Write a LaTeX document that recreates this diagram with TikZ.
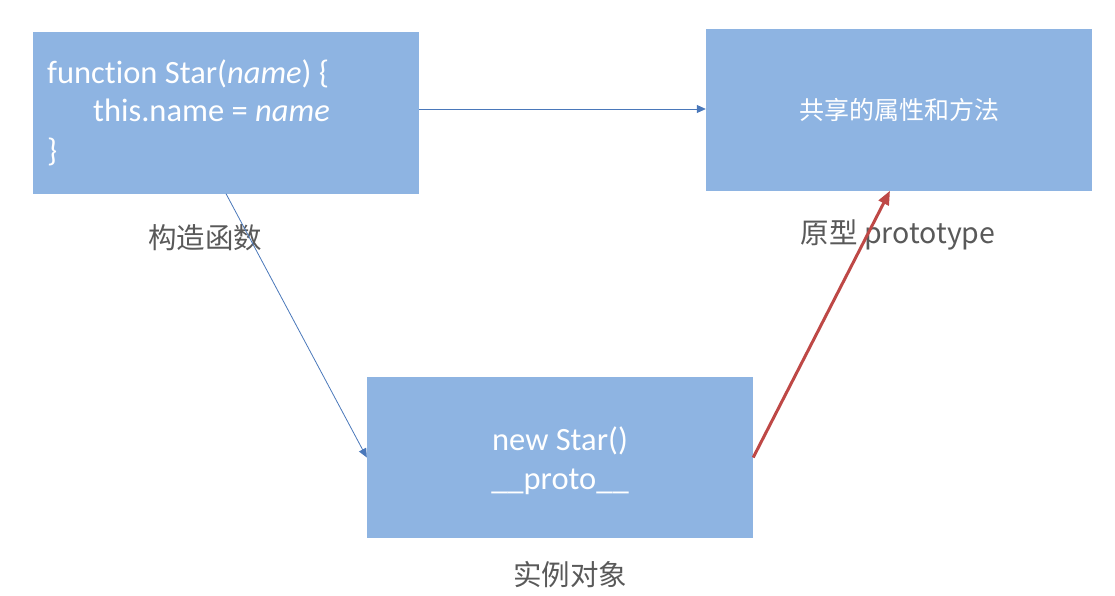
\documentclass[tikz,border=0pt]{standalone}
\usepackage{fontspec}
\setmainfont{Carlito}[Ligatures={NoCommon}]
\newfontfamily\cjk{Noto Sans CJK SC}
\usetikzlibrary{arrows.meta,positioning}
\definecolor{boxblue}{RGB}{142,180,226}
\definecolor{linkblue}{RGB}{74,120,186}
\definecolor{linkred}{RGB}{190,72,70}
\definecolor{labelgrey}{RGB}{89,89,89}
\begin{document}
\begin{tikzpicture}[x=1pt,y=-1pt,
  bluebox/.style={fill=boxblue,draw=none,minimum width=386pt,minimum height=161pt,inner sep=0pt},
  boxtext/.style={text=white,font=\fontsize{32.5}{38}\selectfont,inner sep=0pt},
  cjktext/.style={text=white,font=\cjk\fontsize{25}{30}\selectfont,inner sep=0pt},
  labeltext/.style={text=labelgrey,font=\cjk\fontsize{28.5}{34}\selectfont,inner sep=0pt},
  thinlink/.style={draw=linkblue,line width=0.8pt,-{Triangle[length=9pt,width=8pt]}},
  redlink/.style={draw=linkred,line width=3pt,-{Triangle[length=14pt,width=11pt]}}]
\useasboundingbox (0,0) rectangle (1115,596);
\node[bluebox] (b1) at (226,113) {};
\node[bluebox] (b2) at (899,110) {};
\node[bluebox] (b3) at (560,457.5) {};
% box 1 text
\node[boxtext,anchor=base west] (t1) at (47,84) {function Star(\textit{name}) \{};
\node[boxtext,anchor=base west] (t2) at (93,122) {this.name = \textit{name}};
\node[boxtext,anchor=base west] (t3) at (47,161) {\}};
% box 2 text
\node[cjktext] (t4) at (b2.center) {共享的属性和方法};
% box 3 text
\node[boxtext,anchor=base] (t5) at (560,450) {new Star()};
\node[boxtext,anchor=base] (t6) at (560,489) {\_\_proto\_\_};
% labels
\node[labeltext] (l1) at (205,238) {构造函数};
\node[labeltext] (l2) at (898,235) {原型 prototype};
\node[labeltext] (l3) at (570,575) {实例对象};
% connectors
\draw[thinlink] ([yshift=4pt]b1.east) -- ([yshift=1pt]b2.west);
\draw[thinlink] (b1.south) -- (b3.west);
\draw[redlink] (b3.east) -- ([xshift=-9pt]b2.south);
\end{tikzpicture}
\end{document}
